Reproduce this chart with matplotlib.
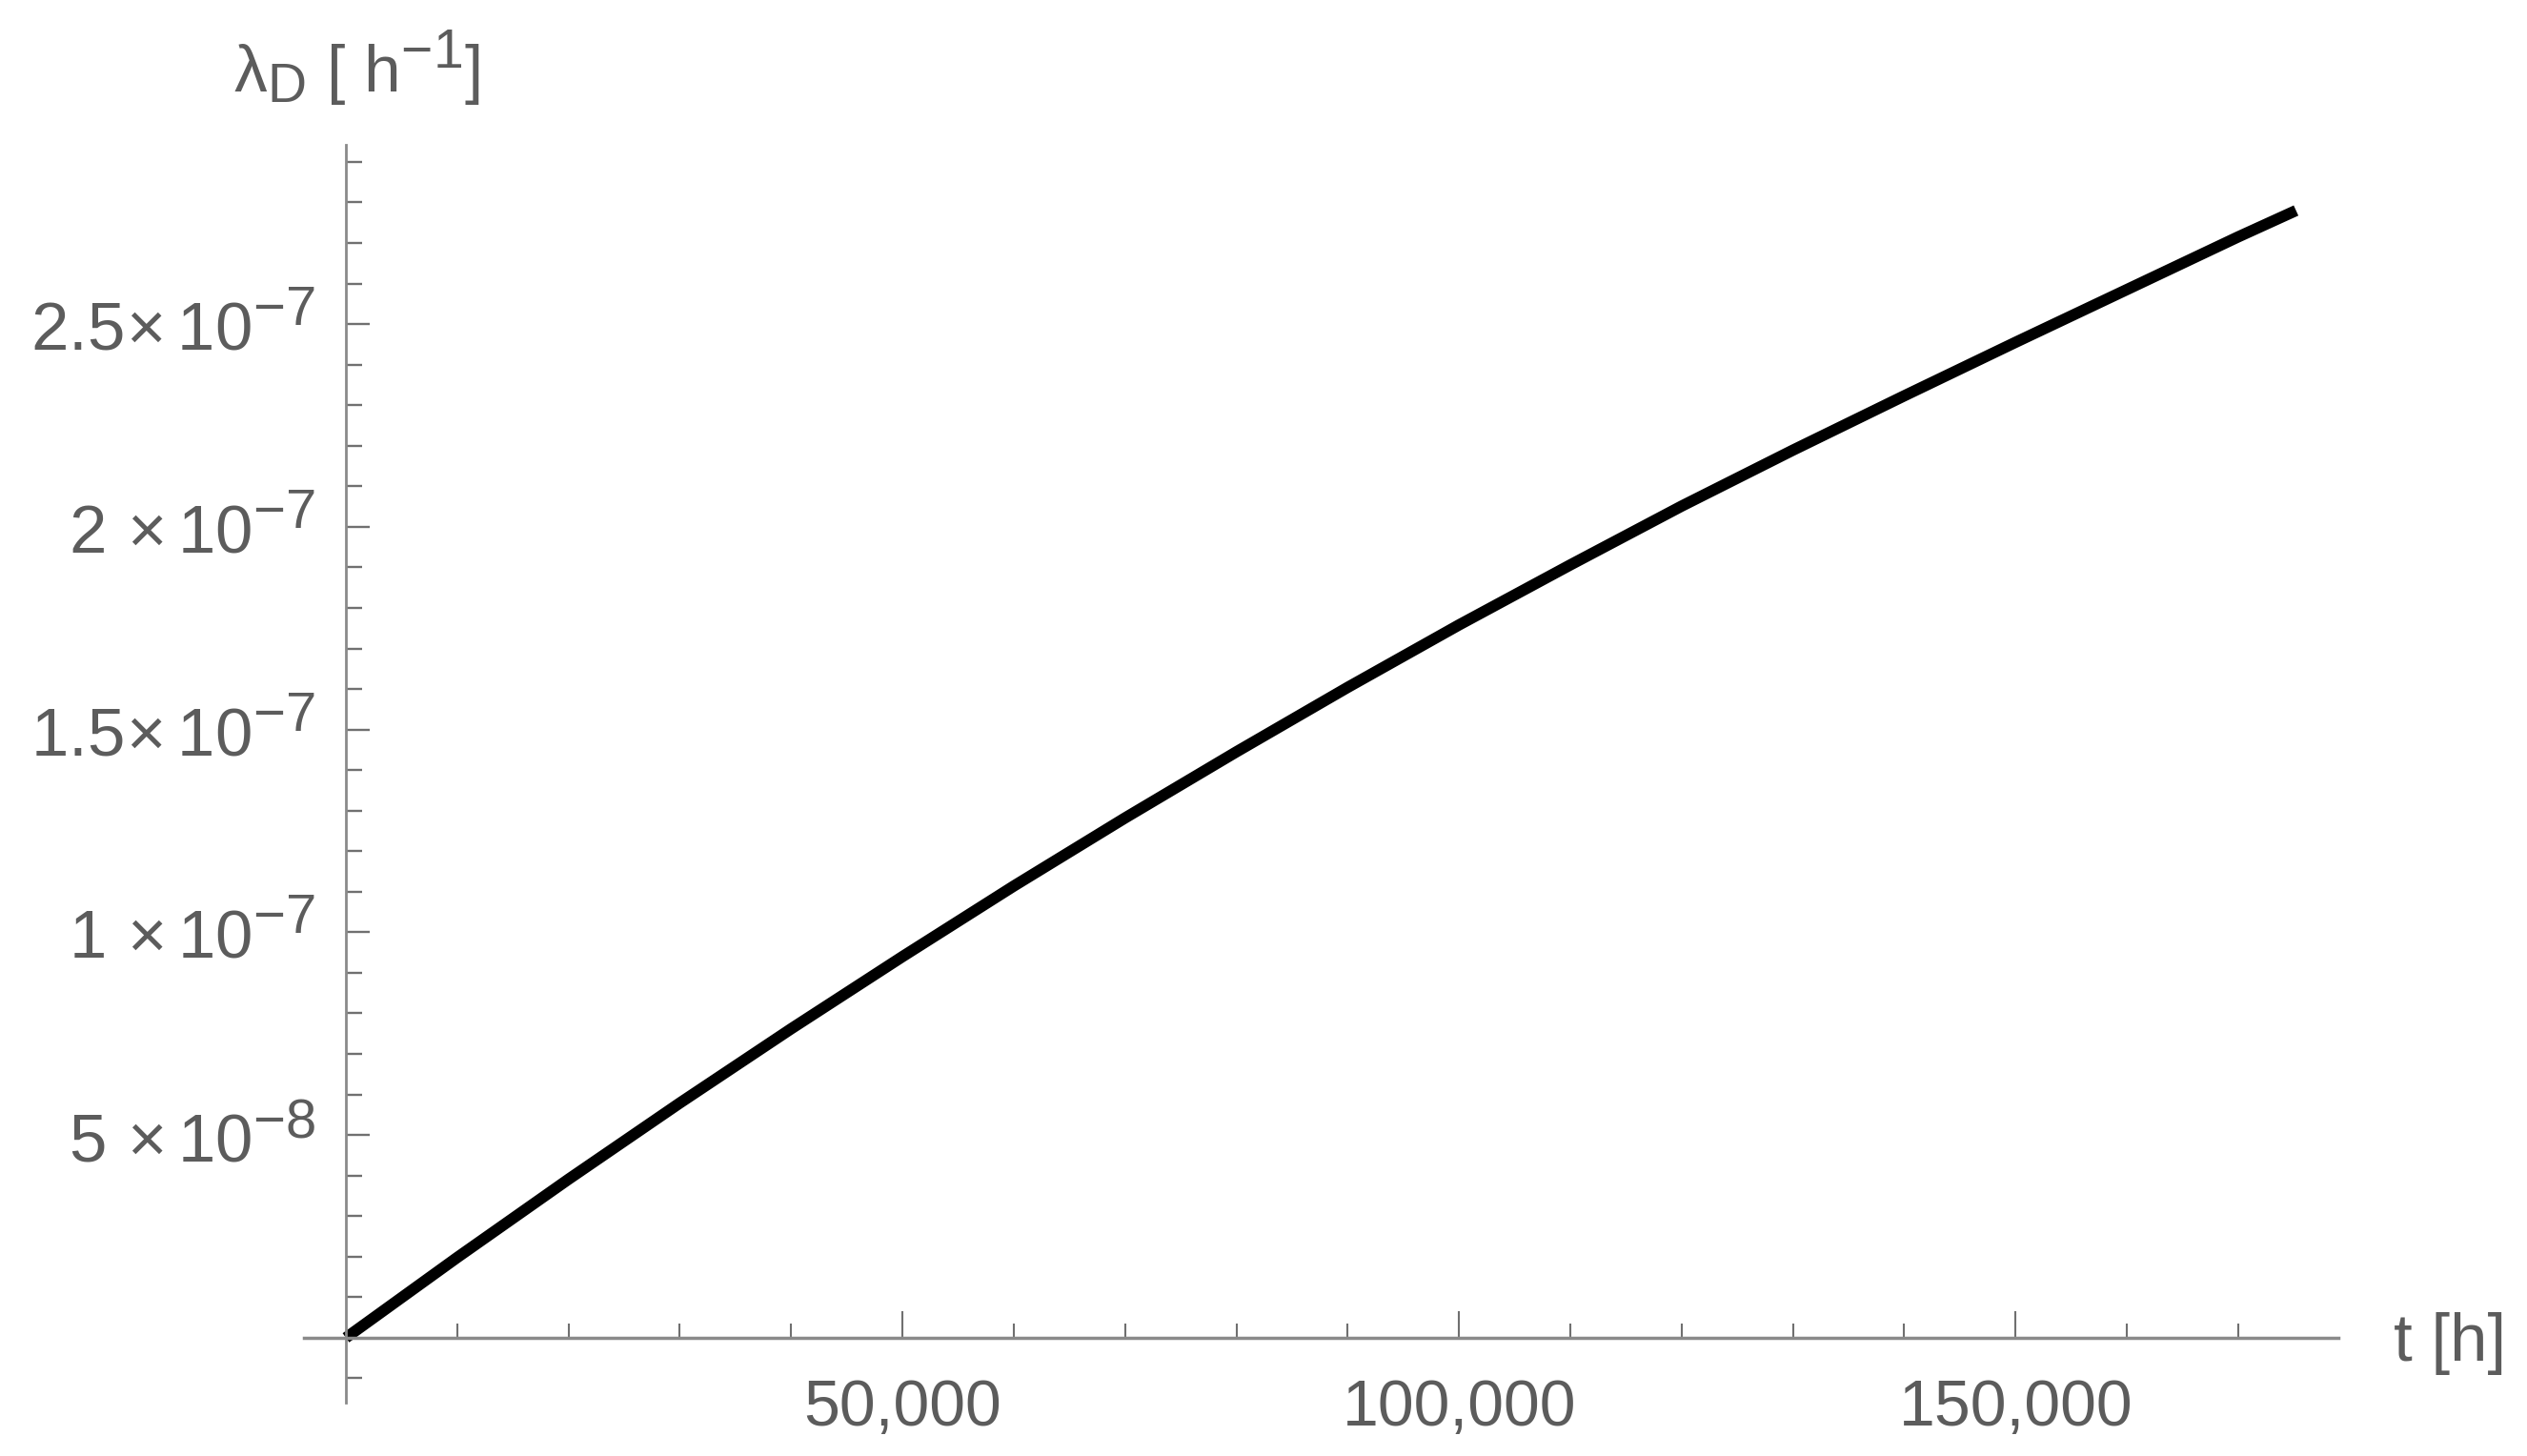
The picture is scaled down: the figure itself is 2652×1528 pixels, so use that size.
import numpy as np
import matplotlib
matplotlib.use("Agg")
import matplotlib.pyplot as plt
import matplotlib._mathtext as mt

plt.rcParams['font.family'] = ['Liberation Sans', 'DejaVu Sans']
plt.rcParams['mathtext.fontset'] = 'custom'
plt.rcParams['mathtext.rm'] = 'Liberation Sans'
plt.rcParams['mathtext.it'] = 'Liberation Sans:italic'
plt.rcParams['mathtext.bf'] = 'Liberation Sans:bold'
mt.SHRINK_FACTOR = 0.82  # bigger exponents, like the original

# Data (t in hours, lambda_D in 1/h)
t_hours = [0, 10000, 20000, 30000, 40000, 50000, 60000, 70000, 80000, 90000,
           100000, 110000, 120000, 130000, 140000, 150000, 160000, 170000, 175200]
lambda_d = [0.0, 1.98e-8, 3.91e-8, 5.79e-8, 7.62e-8, 9.40e-8, 1.114e-7, 1.282e-7,
            1.445e-7, 1.604e-7, 1.758e-7, 1.906e-7, 2.051e-7, 2.189e-7, 2.323e-7,
            2.455e-7, 2.585e-7, 2.715e-7, 2.78e-7]

x_major = [50000, 100000, 150000]
x_major_labels = ['50,000', '100,000', '150,000']
y_major = [5e-8, 1e-7, 1.5e-7, 2e-7, 2.5e-7]
y_major_labels = [r'$\mathregular{5\ \!\times10^{-8}}$',
                  r'$\mathregular{1\ \!\times10^{-7}}$',
                  r'$\mathregular{1.5\!\times10^{-7}}$',
                  r'$\mathregular{2\ \!\times10^{-7}}$',
                  r'$\mathregular{2.5\!\times10^{-7}}$']

W, H = 2652, 1528
fig = plt.figure(figsize=(W / 100, H / 100), dpi=100)
ax = fig.add_axes([319 / W, 1 - 1472 / H, (2454 - 319) / W, (1472 - 152) / H])

ax.plot(t_hours, lambda_d, color='black', lw=8.5, solid_capstyle='butt')

ax.set_xlim(-3770, 179000)
ax.set_ylim(-16e-9, 294.2e-9)

for s in ['top', 'right']:
    ax.spines[s].set_visible(False)
ax.spines['left'].set_position(('data', 0))
ax.spines['bottom'].set_position(('data', 0))
ax.spines['left'].set_color('#8a8a8a')
ax.spines['bottom'].set_color('#8a8a8a')
ax.spines['left'].set_linewidth(2.0)
ax.spines['bottom'].set_linewidth(2.5)

ax.set_xticks(x_major)
ax.set_xticklabels(x_major_labels)
ax.set_xticks([k * 10000 for k in range(1, 18) if k % 5 != 0], minor=True)
ax.set_yticks(y_major)
ax.set_yticklabels(y_major_labels)
ax.set_yticks([k * 1e-8 for k in range(-1, 30) if k % 5 != 0], minor=True)

lab_col = '#5c5c5c'
ax.tick_params(axis='x', which='major', direction='in', length=20, width=1.5,
               color='#707070', labelsize=49, labelcolor=lab_col, pad=30)
ax.tick_params(axis='x', which='minor', direction='in', length=10.5, width=1.5,
               color='#707070')
ax.tick_params(axis='y', which='major', direction='in', length=18, width=1.7,
               color='#707070', labelsize=51, labelcolor=lab_col, pad=23)
ax.tick_params(axis='y', which='minor', direction='in', length=12, width=1.7,
               color='#707070')

fig.text(245 / W, 1 - 97 / H, r'$\mathregular{λ_D\ [\ h^{-1}]}$',
         fontsize=50, color=lab_col, ha='left', va='baseline')
fig.text(2512 / W, 1 - 1410 / H, 't [h]', fontsize=51, color=lab_col,
         ha='left', va='center')

fig.savefig('out.png', dpi=100)
